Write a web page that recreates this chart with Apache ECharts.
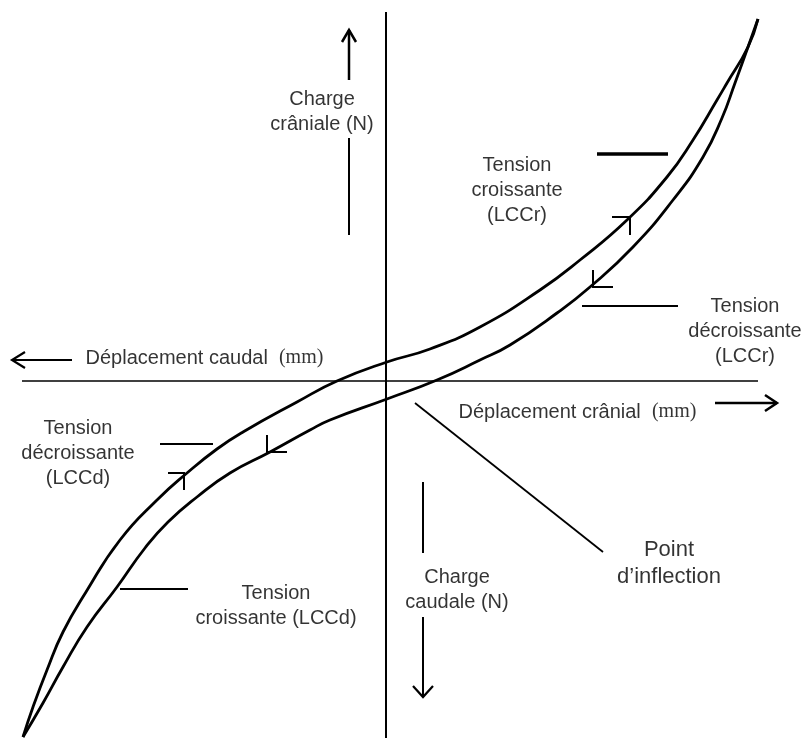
<!DOCTYPE html>
<html>
<head>
<meta charset="utf-8">
<script src="https://cdn.jsdelivr.net/npm/echarts@6/dist/echarts.min.js"></script>
<style>
  html, body { margin: 0; background: #fff; }
  #box { width: 805px; height: 738px; }
</style>
</head>
<body>
<div id="box"></div>
<script>
// loop: x = displacement (+ cranial), y = load (+ cranial)
var upperCurve = [
  [-363, -356], [-353, -326], [-339, -289], [-323, -251], [-300, -211],
  [-266, -159], [-229, -119], [-199, -92], [-169, -68], [-143, -51],
  [-89, -21], [-49, 0], [1, 19], [44, 32], [94, 54], [154, 91],
  [194, 121], [241, 161], [281, 204], [307, 241], [331, 281],
  [341, 298], [362, 334], [372, 362]
];
var lowerCurve = [
  [-363, -356], [-343, -322], [-323, -286], [-299, -246], [-269, -206],
  [-241, -167], [-218, -141], [-189, -116], [-156, -92], [-116, -71],
  [-76, -49], [-56, -39], [1, -18], [51, 1], [94, 21], [124, 36],
  [171, 68], [204, 94], [247, 134], [287, 181], [317, 224],
  [336, 263], [349, 298], [362, 334], [372, 362]
];
var labelTexts = [
  'Charge\ncrâniale (N)',
  'Déplacement caudal  {s|(mm)}',
  'Tension\ncroissante\n(LCCr)',
  'Tension\ndécroissante\n(LCCr)',
  'Déplacement crânial  {s|(mm)}',
  'Tension\ndécroissante\n(LCCd)',
  'Tension\ncroissante (LCCd)',
  'Point\nd\u2019inflection',
  'Charge\ncaudale (N)'
];

var chart = echarts.init(document.getElementById('box'));
var ink = '#000';
var font = "'Liberation Sans', Arial, sans-serif";

function seg(pts, w) {
  return { coords: pts, lineStyle: { width: w || 1.8 } };
}

var strokes = [
  // axes
  seg([[0, 369], [0, -357]], 2),
  seg([[-364, 0], [372, 0]], 1.5),
  // axis arrows
  seg([[-314, 21], [-374, 21]], 2),
  seg([[-361, 29], [-374, 21], [-361, 13]], 2.2),
  seg([[329, -22], [391, -22]], 2.5),
  seg([[379, -14], [391, -22], [379, -30]], 2.5),
  seg([[-37, 301], [-37, 351]], 2.5),
  seg([[-44, 339], [-37, 351], [-30, 339]], 2.5),
  seg([[-37, 243], [-37, 146]], 2),
  seg([[37, -101], [37, -172]], 2),
  seg([[37, -236], [37, -316]], 2),
  seg([[27, -305], [37, -316], [47, -305]], 2.2),
  // leaders
  seg([[211, 227], [282, 227]], 3.5),
  seg([[196, 75], [292, 75]], 1.8),
  seg([[-226, -63], [-173, -63]], 2),
  seg([[-266, -208], [-198, -208]], 1.8),
  seg([[29, -22], [217, -171]], 1.8),
  // direction ticks on the loop
  seg([[226, 164], [244, 164], [244, 146]], 2),
  seg([[207, 111], [207, 94], [227, 94]], 2),
  seg([[-218, -92], [-202, -92], [-202, -109]], 2),
  seg([[-119, -54], [-119, -71], [-99, -71]], 2)
];

var anchors = [
  [-64, 269], [-301, 23], [131, 191], [359, 50], [72, -31],
  [-308, -72], [-110, -225], [283, -182], [71, -209]
];

var labelData = labelTexts.map(function (t, i) {
  var left = i === 1 || i === 4;
  return {
    value: anchors[i],
    label: {
      formatter: t,
      position: left ? 'right' : 'inside',
      distance: 0,
      align: left ? 'left' : 'center',
      fontSize: i === 7 ? 22 : 20,
      lineHeight: i === 7 ? 27 : 25
    }
  };
});

var curveStyle = { color: ink, width: 2.8 };

var option = {
  animation: false,
  backgroundColor: '#fff',
  grid: { left: 0, right: 0, top: 0, bottom: 0 },
  xAxis: { type: 'value', min: -386, max: 419, show: false },
  yAxis: { type: 'value', min: -357, max: 381, show: false },
  series: [
    {
      type: 'line', data: upperCurve, smooth: 0.5,
      showSymbol: false, lineStyle: curveStyle
    },
    {
      type: 'line', data: lowerCurve, smooth: 0.5,
      showSymbol: false, lineStyle: curveStyle
    },
    {
      type: 'lines', coordinateSystem: 'cartesian2d', polyline: true,
      silent: true, lineStyle: { color: ink, opacity: 1 }, data: strokes
    },
    {
      type: 'scatter', symbolSize: 1, silent: true,
      itemStyle: { color: 'rgba(0,0,0,0)' },
      label: {
        show: true, color: '#000', fontFamily: font,
        rich: { s: { fontFamily: "'Liberation Serif', serif", fontSize: 20, color: '#000' } }
      },
      data: labelData
    }
  ]
};

chart.setOption(option);
</script>
</body>
</html>
